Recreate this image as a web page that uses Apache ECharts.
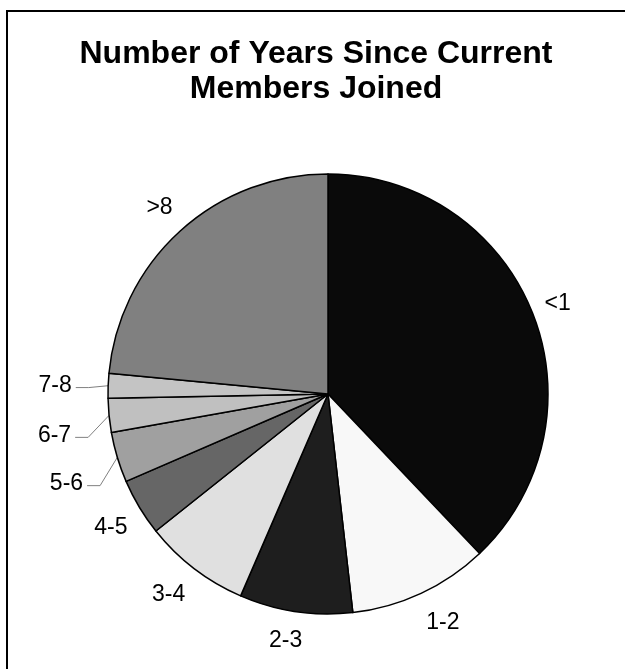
<!DOCTYPE html>
<html><head><meta charset="utf-8">
<script src="https://cdn.jsdelivr.net/npm/echarts@6/dist/echarts.min.js"></script>
<style>html,body{margin:0;padding:0;background:#fff}#chart{width:625px;height:669px}</style>
</head><body><div id="chart"></div>
<script>
// ---- data ----
const categories = ['<1', '1-2', '2-3', '3-4', '4-5', '5-6', '6-7', '7-8', '>8'];
const shares = [37.9, 10.3, 8.3, 7.8, 4.2, 3.7, 2.5, 1.8, 23.5];
const titleLines = ['Number of Years Since Current', 'Members Joined'];

// ---- styling ----
const sliceColors = ['#0a0a0a', '#f8f8f8', '#1e1e1e', '#e0e0e0', '#666666', '#a0a0a0', '#c0c0c0', '#c4c4c4', '#808080'];
const leaderLine = [false, false, false, false, false, true, true, true, false];
const labelNudge = [[-2,2],[9,2],[-6,3],[-6,0],[0,3],[-20,17],[-24,17],[-23,1],[0,-1]];

const CX = 328, CY = 394, R = 220, GAP = 13, LEAD = 13;
const total = shares.reduce((a, b) => a + b, 0);
const midAngles = [];
let acc = 0;
shares.forEach(v => { midAngles.push((acc + v / 2) / total * 2 * Math.PI); acc += v; });

const chart = echarts.init(document.getElementById('chart'), null, {renderer: 'canvas'});
chart.setOption({
  animation: false,
  backgroundColor: '#ffffff',
  title: {
    text: titleLines.join('\n'),
    left: 316, top: 37, textAlign: 'center', padding: 0,
    textStyle: {fontSize: 32, fontWeight: 'bold', fontFamily: 'Liberation Sans', color: '#000', lineHeight: 35}
  },
  graphic: [{
    type: 'rect', silent: true,
    shape: {x: 7, y: 11, width: 700, height: 700},
    style: {fill: 'none', stroke: '#000', lineWidth: 2}
  }],
  series: [{
    type: 'pie',
    center: [CX, CY],
    radius: R,
    startAngle: 90,
    clockwise: true,
    avoidLabelOverlap: false,
    emphasis: {disabled: true},
    itemStyle: {borderColor: '#000', borderWidth: 1.5},
    label: {show: true, position: 'outside', color: '#000', fontSize: 23, fontFamily: 'Liberation Sans'},
    labelLine: {show: false, lineStyle: {color: '#808080', width: 1}},
    labelLayout: function (p) {
      const i = p.dataIndex;
      const a = midAngles[i];
      const s = Math.sin(a), c = Math.cos(a);
      const w = p.labelRect.width, h = p.labelRect.height;
      const d = R + GAP + Math.abs(w / 2 * s) + Math.abs(h / 2 * c);
      const x = CX + d * s + labelNudge[i][0];
      const y = CY - d * c + labelNudge[i][1];
      const out = {x: x, y: y, align: 'center', verticalAlign: 'middle'};
      if (leaderLine[i]) {
        const ex = CX + R * s, ey = CY - R * c;
        const lx = x + w / 2 + 4, ly = y + 2;
        out.labelLinePoints = [[ex, ey], [lx + LEAD, ly], [lx, ly]];
      }
      return out;
    },
    data: categories.map((name, i) => ({
      name: name,
      value: shares[i],
      itemStyle: {color: sliceColors[i]},
      labelLine: {show: leaderLine[i]}
    }))
  }]
});
</script></body></html>
